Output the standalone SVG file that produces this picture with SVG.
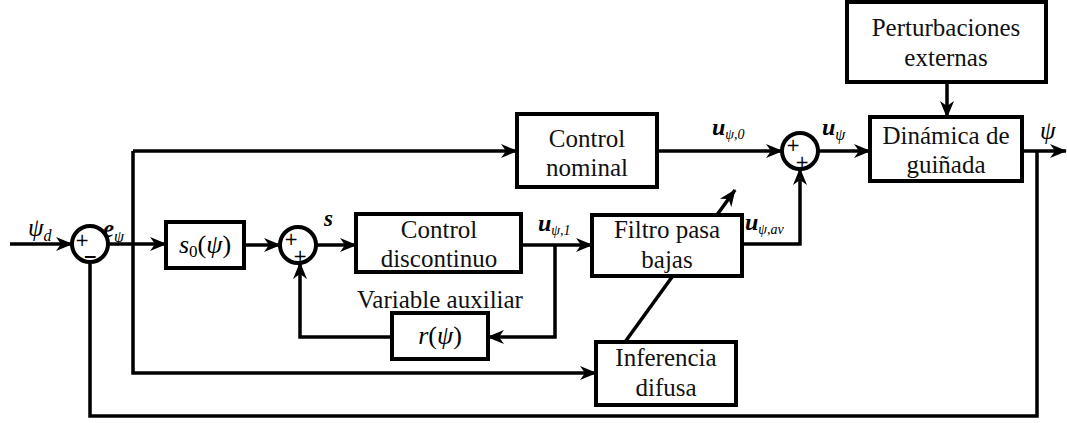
<svg xmlns="http://www.w3.org/2000/svg" width="1067" height="423" viewBox="0 0 1067 423">
  <style>
    .box { fill: #fff; stroke: #000; stroke-width: 4; }
    .sum { fill: #fff; stroke: #000; stroke-width: 4; }
    .wire { fill: none; stroke: #000; stroke-width: 3.5; }
    .lbl { font-family: "Liberation Serif", "Times New Roman", serif; font-size: 25px; fill: #111; text-anchor: middle; }
    .math { font-family: "Liberation Serif", "Times New Roman", serif; font-style: italic; fill: #000; }
    .sign { font-family: "DejaVu Sans", sans-serif; font-size: 17px; fill: #000; text-anchor: middle; }
  </style>
  <defs>
    <marker id="arr" markerWidth="18" markerHeight="16" refX="16" refY="8" orient="auto" markerUnits="userSpaceOnUse">
      <path d="M0,1 L17,8 L0,15 L5,8 z" fill="#000"/>
    </marker>
  </defs>

  <!-- connectors -->
  <g id="connectors" class="wire">
    <path d="M10,244 H72" marker-end="url(#arr)"/>
    <path d="M108,244 H166" marker-end="url(#arr)"/>
    <path d="M244,245 H280" marker-end="url(#arr)"/>
    <path d="M316,245 H356" marker-end="url(#arr)"/>
    <path d="M521,245 H592" marker-end="url(#arr)"/>
    <path d="M555,245 V337 H488" marker-end="url(#arr)"/>
    <path d="M392,337 H300 V263" marker-end="url(#arr)"/>
    <path d="M133,151 H517" marker-end="url(#arr)"/>
    <path d="M133,151 V373 H596" marker-end="url(#arr)"/>
    <path d="M657,151 H782" marker-end="url(#arr)"/>
    <path d="M742,244 H800 V169" marker-end="url(#arr)"/>
    <path d="M818,151 H870" marker-end="url(#arr)"/>
    <path d="M947,82 V117" marker-end="url(#arr)"/>
    <path d="M1022,151 H1066" marker-end="url(#arr)"/>
    <path d="M1037,151 V416 H90 V262"/>
    <path d="M625,342 L735,190" marker-end="url(#arr)"/>
  </g>

  <!-- summing junctions -->
  <g id="sum1">
    <circle class="sum" cx="90" cy="244" r="18"/>
    <text class="sign" x="82" y="246">+</text>
    <text class="sign" x="90" y="262" font-weight="bold">−</text>
  </g>
  <g id="sum2">
    <circle class="sum" cx="298" cy="245" r="18"/>
    <text class="sign" x="291" y="245">+</text>
    <text class="sign" x="300" y="262">+</text>
  </g>
  <g id="sum3">
    <circle class="sum" cx="800" cy="151" r="18"/>
    <text class="sign" x="793" y="151">+</text>
    <text class="sign" x="802" y="168">+</text>
  </g>

  <!-- blocks -->
  <g id="s0">
    <rect class="box" x="166" y="222" width="78" height="46"/>
    <text class="math" x="205" y="253" font-size="26" text-anchor="middle">s<tspan font-size="17" font-style="normal" dy="4">0</tspan><tspan dy="-4" font-style="normal">(</tspan>ψ<tspan font-style="normal">)</tspan></text>
  </g>
  <g id="control-discontinuo">
    <rect class="box" x="356" y="214" width="165" height="58"/>
    <text class="lbl" x="439" y="238">Control</text>
    <text class="lbl" x="439" y="267">discontinuo</text>
  </g>
  <g id="r">
    <rect class="box" x="392" y="313" width="96" height="46"/>
    <text class="math" x="440" y="344" font-size="26" text-anchor="middle">r<tspan font-style="normal">(</tspan>ψ<tspan font-style="normal">)</tspan></text>
  </g>
  <text class="lbl" x="440" y="308">Variable auxiliar</text>
  <g id="control-nominal">
    <rect class="box" x="517" y="114" width="140" height="73"/>
    <text class="lbl" x="587" y="147">Control</text>
    <text class="lbl" x="587" y="176">nominal</text>
  </g>
  <g id="filtro">
    <rect class="box" x="592" y="215" width="150" height="61"/>
    <text class="lbl" x="667" y="238">Filtro pasa</text>
    <text class="lbl" x="667" y="268">bajas</text>
  </g>
  <g id="inferencia">
    <rect class="box" x="596" y="342" width="140" height="63"/>
    <text class="lbl" x="666" y="366">Inferencia</text>
    <text class="lbl" x="666" y="396">difusa</text>
  </g>
  <g id="perturbaciones">
    <rect class="box" x="847" y="2" width="199" height="80"/>
    <text class="lbl" x="946" y="36">Perturbaciones</text>
    <text class="lbl" x="946" y="66">externas</text>
  </g>
  <g id="dinamica">
    <rect class="box" x="870" y="117" width="152" height="64"/>
    <text class="lbl" x="946" y="144">Dinámica de</text>
    <text class="lbl" x="946" y="173">guiñada</text>
  </g>

  <!-- signal labels -->
  <g id="labels" class="math">
    <text x="28" y="236" font-size="25">ψ<tspan font-size="16" dy="5">d</tspan></text>
    <text x="103" y="237" font-size="25" font-weight="bold">e<tspan font-size="16" font-weight="normal" dy="5">ψ</tspan></text>
    <text x="324" y="226" font-size="23" font-weight="bold">s</text>
    <text x="538" y="231" font-size="24" font-weight="bold">u<tspan font-size="14" font-weight="normal" dy="4">ψ,1</tspan></text>
    <text x="712" y="135" font-size="24" font-weight="bold">u<tspan font-size="14" font-weight="normal" dy="4">ψ,0</tspan></text>
    <text x="822" y="135" font-size="24" font-weight="bold">u<tspan font-size="16" font-weight="normal" dy="5">ψ</tspan></text>
    <text x="745" y="230" font-size="24" font-weight="bold">u<tspan font-size="14" font-weight="normal" dy="4">ψ,av</tspan></text>
    <text x="1040" y="139" font-size="25">ψ</text>
  </g>
</svg>
